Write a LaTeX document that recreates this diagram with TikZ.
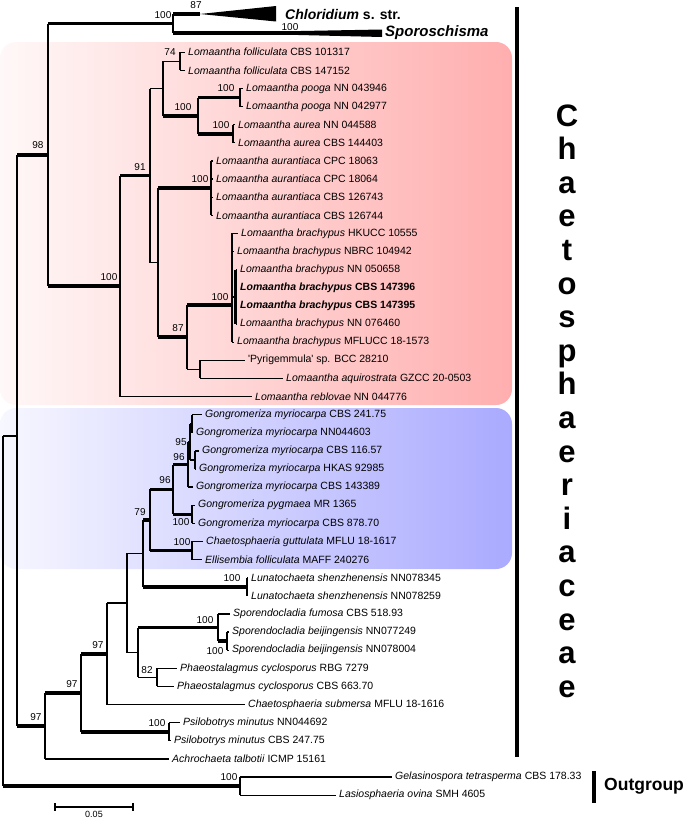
\documentclass[tikz,border=0pt]{standalone}
\usepackage{fontspec}
\setmainfont{Liberation Sans}
\usepackage{xcolor}
\definecolor{cPink}{HTML}{FFAEAE}
\definecolor{cPinkL}{HTML}{FFF8F8}
\definecolor{cBlue}{HTML}{AAAAFF}
\definecolor{cBlueL}{HTML}{F7F7FF}
\newcommand{\tipfont}{\fontsize{10.5}{12}\selectfont}
\newcommand{\bsfont}{\fontsize{10}{12}\selectfont}
\usetikzlibrary{calc}
\tikzset{
  br/.style={line width=1.3pt},
  br-mid/.style={line width=2.4pt},
  br-thick/.style={line width=3.6pt},
  tip/.style={anchor=west,inner sep=0pt,xshift=3pt,font=\tipfont},
  boot/.style={inner sep=0pt,font=\bsfont},
  clade-box/.style={rounded corners=16pt},
  fam-letter/.style={anchor=base,inner sep=0pt,font=\fontsize{31}{31}\selectfont\bfseries},
  group-bar/.style={line width=4.2pt},
}

\begin{document}
\begin{tikzpicture}[x=1pt,y=-1pt]
  \useasboundingbox (0,0) rectangle (685,819);
  % clade shading
  \shade[clade-box,left color=cPinkL,right color=cPink] (0,42) rectangle (512,405);
  \shade[clade-box,left color=cBlueL,right color=cBlue] (0,408) rectangle (512,569);

  % leaves
  \foreach \tx/\lab [count=\i from 2] in {
    185/{\textit{Lomaantha folliculata} CBS 101317},
    185/{\textit{Lomaantha folliculata} CBS 147152},
    243/{\textit{Lomaantha pooga} NN 043946},
    243/{\textit{Lomaantha pooga} NN 042977},
    235/{\textit{Lomaantha aurea} NN 044588},
    235/{\textit{Lomaantha aurea} CBS 144403},
    213/{\textit{Lomaantha aurantiaca} CPC 18063},
    213/{\textit{Lomaantha aurantiaca} CPC 18064},
    213/{\textit{Lomaantha aurantiaca} CBS 126743},
    213/{\textit{Lomaantha aurantiaca} CBS 126744},
    238/{\textit{Lomaantha brachypus} HKUCC 10555},
    234/{\textit{Lomaantha brachypus} NBRC 104942},
    237/{\textit{Lomaantha brachypus} NN 050658},
    237/{\textbf{\textit{Lomaantha brachypus} CBS 147396}},
    237/{\textbf{\textit{Lomaantha brachypus} CBS 147395}},
    237/{\textit{Lomaantha brachypus} NN 076460},
    234/{\textit{Lomaantha brachypus} MFLUCC 18-1573},
    245/{\textquotesingle Pyrigemmula\textquotesingle\ sp. BCC 28210},
    283/{\textit{Lomaantha aquirostrata} GZCC 20-0503},
    252/{\textit{Lomaantha reblovae} NN 044776},
    202/{\textit{Gongromeriza myriocarpa} CBS 241.75},
    193/{\textit{Gongromeriza myriocarpa} NN044603},
    199/{\textit{Gongromeriza myriocarpa} CBS 116.57},
    196/{\textit{Gongromeriza myriocarpa} HKAS 92985},
    193/{\textit{Gongromeriza myriocarpa} CBS 143389},
    195/{\textit{Gongromeriza pygmaea} MR 1365},
    195/{\textit{Gongromeriza myriocarpa} CBS 878.70},
    203/{\textit{Chaetosphaeria guttulata} MFLU 18-1617},
    202/{\textit{Ellisembia folliculata} MAFF 240276},
    248/{\textit{Lunatochaeta shenzhenensis} NN078345},
    248/{\textit{Lunatochaeta shenzhenensis} NN078259},
    230/{\textit{Sporendocladia fumosa} CBS 518.93},
    229/{\textit{Sporendocladia beijingensis} NN077249},
    229/{\textit{Sporendocladia beijingensis} NN078004},
    177/{\textit{Phaeostalagmus cyclosporus} RBG 7279},
    174/{\textit{Phaeostalagmus cyclosporus} CBS 663.70},
    245/{\textit{Chaetosphaeria submersa} MFLU 18-1616},
    180/{\textit{Psilobotrys minutus} NN044692},
    171/{\textit{Psilobotrys minutus} CBS 247.75},
    169/{\textit{Achrochaeta talbotii} ICMP 15161},
    392/{\textit{Gelasinospora tetrasperma} CBS 178.33},
    336/{\textit{Lasiosphaeria ovina} SMH 4605}}{
    \coordinate (l\i) at (\tx,{16+18.12*\i});
    \node[tip] (t\i) at (l\i) {\lab};
  }

  % internal nodes
  \coordinate (root)   at (3,610);
  \coordinate (nIn)    at (17,436);
  \coordinate (n98)    at (48,154.8);
  \coordinate (nChl)   at (173,23.5);
  \coordinate (chl)    at (200,14);
  \coordinate (spo)    at (290,33);
  \coordinate (nLom)   at (120,286);
  \coordinate (n91)    at (150,175.6);
  \coordinate (nA)     at (163,88.5);
  \coordinate (n74)    at (180,61.3);
  \coordinate (nPA)    at (198,115.7);
  \coordinate (nPooga) at (240,97.6);
  \coordinate (nAurea) at (233,133.8);
  \coordinate (nB)     at (158,262.7);
  \coordinate (nAur)   at (211,188.2);
  \coordinate (n87)    at (187,337.2);
  \coordinate (nBra)   at (232,305);
  \coordinate (nBs)    at (235.5,296.9);
  \coordinate (nPyr)   at (200,369.4);
  \coordinate (n97a)   at (45,725.9);
  \coordinate (n97b)   at (81,692.8);
  \coordinate (nPsi)   at (169,731.8);
  \coordinate (n97c)   at (107,653.8);
  \coordinate (nX)     at (127,603);
  \coordinate (n79)    at (143,553.4);
  \coordinate (nG)     at (150,520);
  \coordinate (n96a)   at (173,489.4);
  \coordinate (n96b)   at (188,464.5);
  \coordinate (n95)    at (190,441.8);
  \coordinate (nGa)    at (192,423.7);
  \coordinate (nGb)    at (195,460);
  \coordinate (nPyg)   at (192,514.3);
  \coordinate (nCh)    at (192,550.6);
  \coordinate (nLun)   at (247,586.8);
  \coordinate (nSP)    at (138,652.5);
  \coordinate (nSpo)   at (218,627.6);
  \coordinate (nBei)   at (227,641.2);
  \coordinate (n82)    at (157,677.4);
  \coordinate (nOut)   at (240,786.1);

  % backbone
  \draw[br] (root |- nIn) -- (root |- nOut);
  \draw[br] (root |- nIn) -- (nIn);
  \draw[br-thick] (root |- nOut) -- (nOut);
  \draw[br] (nIn |- n98) -- (nIn |- n97a);
  \draw[br-thick] (nIn |- n98) -- (n98);
  \draw[br-thick] (nIn |- n97a) -- (n97a);
  \draw[br] (n98 |- nChl) -- (n98 |- nLom);
  \draw[br-thick] (n98 |- nChl) -- (nChl);
  \draw[br-thick] (n98 |- nLom) -- (nLom);

  % Chloridium, Sporoschisma
  \draw[br] (nChl |- chl) -- (nChl |- spo);
  \draw[br-thick] (nChl |- chl) -- (chl);
  \draw[br-thick] (nChl |- spo) -- (spo);
  \fill (chl) -- (276,6) -- (276,21.5) -- cycle;
  \fill ($(spo)+(0,-1.8)$) -- (382,29.5) -- (382,37) -- ($(spo)+(0,1.8)$) -- cycle;
  \node[tip,xshift=6pt,font=\fontsize{14}{16}\selectfont\bfseries] (tChl) at (276,14)
    {\textit{Chloridium} s. str.};
  \node[tip,font=\fontsize{15}{17}\selectfont\bfseries] (tSpo) at (382,33) {\textit{Sporoschisma}};

  % Lomaantha
  \draw[br] (nLom |- n91) -- (nLom |- l21);
  \draw[br-thick] (nLom |- n91) -- (n91);
  \draw[br] (nLom |- l21) -- (l21);
  \draw[br] (n91 |- nA) -- (n91 |- nB);
  \draw[br] (n91 |- nA) -- (nA);
  \draw[br] (n91 |- nB) -- (nB);
  \draw[br] (nA |- n74) -- (nA |- nPA);
  \draw[br] (nA |- n74) -- (n74);
  \draw[br-thick] (nA |- nPA) -- (nPA);
  \draw[br] (n74 |- l2) -- (n74 |- l3);
  \draw[br] (n74 |- l2) -- (l2);
  \draw[br] (n74 |- l3) -- (l3);
  \draw[br] (nPA |- nPooga) -- (nPA |- nAurea);
  \draw[br-thick] (nPA |- nPooga) -- (nPooga);
  \draw[br-thick] (nPA |- nAurea) -- (nAurea);
  \draw[br] (nPooga |- l4) -- (nPooga |- l5);
  \draw[br] (nPooga |- l4) -- (l4);
  \draw[br] (nPooga |- l5) -- (l5);
  \draw[br] (nAurea |- l6) -- (nAurea |- l7);
  \draw[br] (nAurea |- l6) -- (l6);
  \draw[br] (nAurea |- l7) -- (l7);
  \draw[br] (nB |- nAur) -- (nB |- n87);
  \draw[br-thick] (nB |- nAur) -- (nAur);
  \draw[br-thick] (nB |- n87) -- (n87);
  \draw[br] (nAur |- l8) -- (nAur |- l11);
  \foreach \k in {8,...,11} \draw[br] (nAur |- l\k) -- (l\k);
  \draw[br] (n87 |- nBra) -- (n87 |- nPyr);
  \draw[br-thick] (n87 |- nBra) -- (nBra);
  \draw[br] (n87 |- nPyr) -- (nPyr);
  \draw[br] (nBra |- l12) -- (nBra |- l18);
  \foreach \k in {12,13,18} \draw[br] (nBra |- l\k) -- (l\k);
  \draw[br] (nBra |- nBs) -- (nBs);
  \draw[br-mid] (nBs |- l14) -- (nBs |- l17);
  \foreach \k in {14,...,17} \draw[br] (nBs |- l\k) -- (l\k);
  \draw[br] (nPyr |- l19) -- (nPyr |- l20);
  \draw[br] (nPyr |- l19) -- (l19);
  \draw[br] (nPyr |- l20) -- (l20);

  % lower backbone
  \draw[br] (n97a |- n97b) -- (n97a |- l41);
  \draw[br-thick] (n97a |- n97b) -- (n97b);
  \draw[br] (n97a |- l41) -- (l41);
  \draw[br] (n97b |- n97c) -- (n97b |- nPsi);
  \draw[br-thick] (n97b |- n97c) -- (n97c);
  \draw[br-thick] (n97b |- nPsi) -- (nPsi);
  \draw[br] (nPsi |- l39) -- (nPsi |- l40);
  \draw[br] (nPsi |- l39) -- (l39);
  \draw[br] (nPsi |- l40) -- (l40);
  \draw[br] (n97c |- nX) -- (n97c |- l38);
  \draw[br] (n97c |- nX) -- (nX);
  \draw[br] (n97c |- l38) -- (l38);
  \draw[br] (nX |- n79) -- (nX |- nSP);
  \draw[br] (nX |- n79) -- (n79);
  \draw[br] (nX |- nSP) -- (nSP);

  % Gongromeriza and allies
  \draw[br-mid] (n79 |- nG) -- (n79 |- nLun);
  \draw[br-thick] (n79 |- nG) -- (nG);
  \draw[br-thick] (n79 |- nLun) -- (nLun);
  \draw[br-mid] (nG |- n96a) -- (nG |- nCh);
  \draw[br-thick] (nG |- n96a) -- (n96a);
  \draw[br-thick] (nG |- nCh) -- (nCh);
  \draw[br-mid] (n96a |- n96b) -- (n96a |- nPyg);
  \draw[br-thick] (n96a |- n96b) -- (n96b);
  \draw[br-thick] (n96a |- nPyg) -- (nPyg);
  \draw[br] (n96b |- n95) -- (n96b |- l26);
  \draw[br-mid] (n96b |- n95) -- (n95);
  \draw[br] (n96b |- l26) -- (l26);
  \draw[br-mid] (n95 |- nGa) -- (n95 |- nGb);
  \draw[br] (n95 |- nGa) -- (nGa);
  \draw[br] (n95 |- nGb) -- (nGb);
  \draw[br] (nGa |- l22) -- (nGa |- l23);
  \draw[br] (nGa |- l22) -- (l22);
  \draw[br] (nGa |- l23) -- (l23);
  \draw[br] (nGb |- l24) -- (nGb |- l25);
  \draw[br] (nGb |- l24) -- (l24);
  \draw[br] (nGb |- l25) -- (l25);
  \draw[br] (nPyg |- l27) -- (nPyg |- l28);
  \draw[br] (nPyg |- l27) -- (l27);
  \draw[br] (nPyg |- l28) -- (l28);
  \draw[br] (nCh |- l29) -- (nCh |- l30);
  \draw[br] (nCh |- l29) -- (l29);
  \draw[br] (nCh |- l30) -- (l30);
  \draw[br] (nLun |- l31) -- (nLun |- l32);
  \draw[br] (nLun |- l31) -- (l31);
  \draw[br] (nLun |- l32) -- (l32);

  % Sporendocladia, Phaeostalagmus
  \draw[br] (nSP |- nSpo) -- (nSP |- n82);
  \draw[br-thick] (nSP |- nSpo) -- (nSpo);
  \draw[br] (nSP |- n82) -- (n82);
  \draw[br] (nSpo |- l33) -- (nSpo |- nBei);
  \draw[br] (nSpo |- l33) -- (l33);
  \draw[br-thick] (nSpo |- nBei) -- (nBei);
  \draw[br] (nBei |- l34) -- (nBei |- l35);
  \draw[br] (nBei |- l34) -- (l34);
  \draw[br] (nBei |- l35) -- (l35);
  \draw[br] (n82 |- l36) -- (n82 |- l37);
  \draw[br] (n82 |- l36) -- (l36);
  \draw[br] (n82 |- l37) -- (l37);

  % outgroup
  \draw[br] (nOut |- l42) -- (nOut |- l43);
  \draw[br] (nOut |- l42) -- (l42);
  \draw[br] (nOut |- l43) -- (l43);

  % bootstrap values
  \node[boot] (b87)   at (196,5)   {87};
  \node[boot] (bChl)  at (163,15)  {100};
  \node[boot] (bSpo)  at (290,27)  {100};
  \node[boot] (b98)   at (38,145)  {98};
  \node[boot] (b74)   at (170,52)  {74};
  \node[boot] (bPooga) at (226,88) {100};
  \node[boot] (bPA)   at (183,107) {100};
  \node[boot] (bAurea) at (221,125) {100};
  \node[boot] (b91)   at (140,167) {91};
  \node[boot] (bAur)  at (200,179) {100};
  \node[boot] (bLom)  at (109,277) {100};
  \node[boot] (bBra)  at (220,297) {100};
  \node[boot] (b87b)  at (178,328) {87};
  \node[boot] (b95)   at (181,442) {95};
  \node[boot] (b96b)  at (179,457) {96};
  \node[boot] (b96a)  at (165,480) {96};
  \node[boot] (b79)   at (140,512) {79};
  \node[boot] (bPyg)  at (181,522) {100};
  \node[boot] (bCh)   at (182,542) {100};
  \node[boot] (bLun)  at (232,578) {100};
  \node[boot] (bSpo2) at (205,620) {100};
  \node[boot] (bBei)  at (215,651) {100};
  \node[boot] (b97c)  at (98,645)  {97};
  \node[boot] (b82)   at (147,670) {82};
  \node[boot] (b97b)  at (72,684)  {97};
  \node[boot] (b97a)  at (36,717)  {97};
  \node[boot] (bPsi)  at (157,723) {100};
  \node[boot] (bOut)  at (229,777) {100};

  % family and outgroup bars
  \coordinate (famTop) at (517,7);
  \coordinate (famBot) at (517,757);
  \draw[group-bar] (famTop) -- (famBot);
  \foreach \ch [count=\k from 0] in {C,h,a,e,t,o,s,p,h,a,e,r,i,a,c,e,a,e}
    \node[fam-letter] (f\k) at (567,{126+33.6*\k}) {\ch};
  \coordinate (outTop) at (594,771);
  \coordinate (outBot) at (594,803);
  \draw[group-bar] (outTop) -- (outBot);
  \node[anchor=west,inner sep=0pt,font=\fontsize{17.5}{20}\selectfont\bfseries] (tOut)
    at (604,786) {Outgroup};

  % scale bar
  \coordinate (sb1) at (55,807);
  \coordinate (sb2) at (133,807);
  \draw[br] (sb1) -- (sb2);
  \draw[br] ($(sb1)+(0,-4)$) -- ($(sb1)+(0,4)$);
  \draw[br] ($(sb2)+(0,-4)$) -- ($(sb2)+(0,4)$);
  \node[boot,font=\fontsize{9}{10}\selectfont] (sbl) at (94,814) {0.05};
\end{tikzpicture}
\end{document}
